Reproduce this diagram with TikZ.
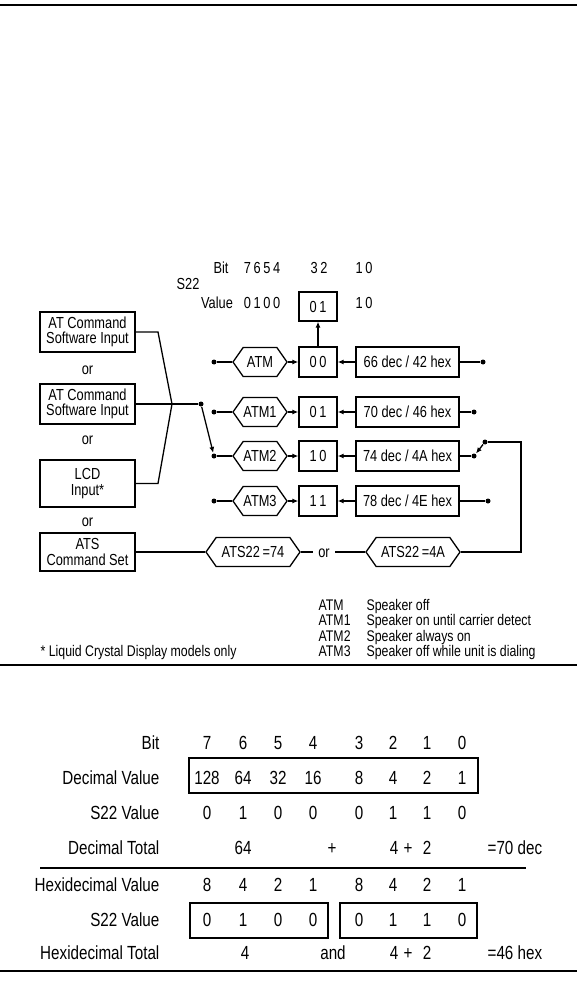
\documentclass[tikz,border=0pt]{standalone}
\usepackage{fontspec}
\setmainfont[FakeStretch=0.8]{Liberation Sans}
\usetikzlibrary{shapes.symbols,arrows.meta}
\begin{document}
\begin{tikzpicture}[x=1pt,y=-1pt,
  line width=1.3pt,
  rule/.style={line width=1.6pt},
  box/.style={draw,line width=1.3pt,inner sep=0pt,align=center,font=\fontsize{16}{15.5}\selectfont},
  hexa/.style={draw,line width=1.3pt,shape=signal,signal to=west and east,signal pointer angle=110,minimum height=29pt,inner sep=0pt,font=\fontsize{16}{15.5}\selectfont},
  dot/.style={circle,fill,inner sep=0pt,minimum size=5pt},
  arr/.style={-{Latex[length=6pt,width=5pt]}},
  txt/.style={inner sep=0pt,anchor=base,font=\fontsize{16}{16}\selectfont},
  leg/.style={inner sep=0pt,anchor=base west,font=\fontsize{15.4}{15.5}\selectfont},
  tab/.style={inner sep=0pt,anchor=base,font=\fontsize{19}{20}\selectfont},
  lab/.style={tab,anchor=base east},
  tbox/.style={draw,line width=1.7pt,inner sep=0pt},
]
\useasboundingbox (0,0) rectangle (577,981);
% rules
\coordinate (t1) at (0,5); \coordinate (t2) at (577,5);
\coordinate (m1) at (0,665); \coordinate (m2) at (577,665);
\coordinate (b1) at (0,971); \coordinate (b2) at (577,971);
\draw[rule] (t1) -- (t2);
\draw[rule] (m1) -- (m2);
\draw[rule] (b1) -- (b2);

% header
\node[txt] (bit) at (221,273) {Bit};
\node[txt] (bb1) at (262,273) {7\,6\,5\,4};
\node[txt] (bb2) at (319,273) {3\,2};
\node[txt] (bb3) at (364,273) {1\,0};
\node[txt] (s22) at (188,289) {S22};
\node[txt] (val) at (217,308) {Value};
\node[txt] (vv1) at (262,308) {0\,1\,0\,0};
\node[box,minimum width=38pt,minimum height=29pt] (top) at (318,306.5) {0\,1};
\node[txt] (vv3) at (364,308) {1\,0};

% input boxes
\node[box,minimum width=95pt,minimum height=40pt] (in1) at (87.5,332) {AT Command\\Software Input};
\node[txt] (or1) at (87.5,374) {or};
\node[box,minimum width=95pt,minimum height=40pt] (in2) at (87.5,404) {AT Command\\Software Input};
\node[txt] (or2) at (87.5,444) {or};
\node[box,minimum width=95pt,minimum height=47pt] (in3) at (87.5,483.5) {LCD\\Input*};
\node[txt] (or3) at (87.5,526) {or};
\node[box,minimum width=95pt,minimum height=38pt] (in4) at (87.5,552) {ATS\\Command Set};

% rows
\foreach \i/\yy/\hh/\bbb/\vvv/\rr in {0/362/ATM/{0\,0}/{66 dec / 42 hex}/483,
                               1/412/ATM1/{0\,1}/{70 dec / 46 hex}/474,
                               2/456/ATM2/{1\,0}/{74 dec / 4A hex}/474,
                               3/501/ATM3/{1\,1}/{78 dec / 4E hex}/488}{
  \node[dot] (l\i) at (214,\yy) {};
  \node[hexa,minimum width=54pt] (h\i) at (260,\yy) {\hh};
  \node[box,minimum width=38pt,minimum height=30pt] (b\i) at (318,\yy) {\bbb};
  \node[box,minimum width=103pt,minimum height=30pt] (v\i) at (407.5,\yy) {\vvv};
  \node[dot] (r\i) at (\rr,\yy) {};
  \draw (l\i) -- (h\i.west);
  \draw[arr] (h\i.east) -- (b\i.west);
  \draw[arr] (v\i.west) -- (b\i.east);
  \draw (v\i.east) -- (r\i);
}
\draw[arr] (b0.north) -- (top.south);

% fork
\coordinate (f1) at (158,332);
\coordinate (fj) at (172,404);
\coordinate (f3) at (158,483.5);
\node[dot] (jd) at (201,404) {};
\draw (in1.east) -- (f1) -- (fj) -- (f3) -- (in3.east);
\draw (in2.east) -- (jd);
\draw[arr] (jd) -- (l2);

% ATS row
\node[hexa,minimum width=94pt] (a74) at (253,552) {ATS22\,=74};
\node[txt,inner xsep=5pt] (or4) at (324,557) {or};
\node[hexa,minimum width=94pt] (a4a) at (413,552) {ATS22\,=4A};
\draw (in4.east) -- (a74.west);
\draw (a74.east) -- (or4.west |- a74.east);
\draw (or4.east |- a74.east) -- (a4a.west);

% switch
\node[dot] (sw) at (485,442) {};
\coordinate (c1) at (521,442);
\coordinate (c2) at (521,552);
\draw[arr] (sw) -- (r2);
\draw (sw) -- (c1) -- (c2) -- (a4a.east);

% legend
\node[leg] (k0) at (318,610) {ATM};   \node[leg] (d0) at (366,610) {Speaker off};
\node[leg] (k1) at (318,625.5) {ATM1}; \node[leg] (d1) at (366,625.5) {Speaker on until carrier detect};
\node[leg] (k2) at (318,641) {ATM2};  \node[leg] (d2) at (366,641) {Speaker always on};
\node[leg] (k3) at (318,656.5) {ATM3}; \node[leg] (d3) at (366,656.5) {Speaker off while unit is dialing};
\node[leg] (note) at (40,656.5) {* Liquid Crystal Display models only};

% lower table
\node[lab] (lb1) at (160,749) {Bit};
\node[lab] (lb2) at (160,784) {Decimal Value};
\node[lab] (lb3) at (160,819) {S22 Value};
\node[lab] (lb4) at (160,854) {Decimal Total};
\node[lab] (lb5) at (160,891) {Hexidecimal Value};
\node[lab] (lb6) at (160,926) {S22 Value};
\node[lab] (lb7) at (160,959) {Hexidecimal Total};

\node[tbox,minimum width=289pt,minimum height=35pt] (dvbox) at (333.5,775.5) {};
\node[tbox,minimum width=138pt,minimum height=35pt] (sb1) at (259,920.5) {};
\node[tbox,minimum width=137pt,minimum height=35pt] (sb2) at (408.5,920.5) {};

\foreach \xx/\bt/\dv/\sv/\hv/\hs in {207/7/128/0/8/0, 243/6/64/1/4/1, 278/5/32/0/2/0, 313/4/16/0/1/0,
                                     359/3/8/0/8/0, 393/2/4/1/4/1, 427/1/2/1/2/1, 462/0/1/0/1/0}{
  \node[tab] at (\xx,749) {\bt};
  \node[tab] at (\xx,784) {\dv};
  \node[tab] at (\xx,819) {\sv};
  \node[tab] at (\xx,891) {\hv};
  \node[tab] at (\xx,926) {\hs};
}
\node[tab] (dt1) at (243,854) {64};
\node[tab] (dt2) at (332,854) {+};
\node[tab] (dt3) at (394,854) {4};
\node[tab] (dt4) at (408,854) {+};
\node[tab] (dt5) at (427,854) {2};
\node[tab,anchor=base west] (dt6) at (487,854) {=70 dec};
\coordinate (s1) at (40,868); \coordinate (s2) at (526,868);
\draw[line width=1.6pt] (s1) -- (s2);
\node[tab] (ht1) at (245,959) {4};
\node[tab] (ht2) at (333,959) {and};
\node[tab] (ht3) at (394,959) {4};
\node[tab] (ht4) at (408,959) {+};
\node[tab] (ht5) at (427,959) {2};
\node[tab,anchor=base west] (ht6) at (487,959) {=46 hex};
\end{tikzpicture}
\end{document}
